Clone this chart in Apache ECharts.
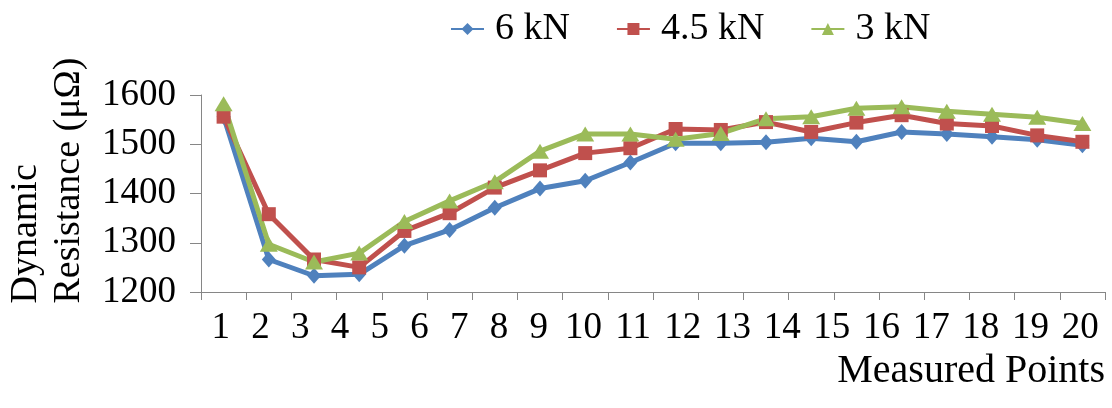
<!DOCTYPE html>
<html>
<head>
<meta charset="utf-8">
<script src="https://cdn.jsdelivr.net/npm/echarts@6/dist/echarts.min.js"></script>
<style>
html, body { margin: 0; padding: 0; background: #fff; }
#chart { width: 1112px; height: 408px; }
</style>
</head>
<body>
<div id="chart"></div>
<script>
var categories = ['1', '2', '3', '4', '5', '6', '7', '8', '9', '10',
  '11', '12', '13', '14', '15', '16', '17', '18', '19', '20']
var yTicks = [1200, 1300, 1400, 1500, 1600]
var seriesNames = ['6 kN', '4.5 kN', '3 kN']
var res6kN = [1556, 1266, 1233, 1236, 1294, 1326, 1371, 1410, 1426, 1463,
  1502, 1502, 1504, 1512, 1505, 1525, 1521, 1515, 1509, 1498]
var res45kN = [1556, 1358, 1266, 1250, 1324, 1360, 1412, 1447, 1482, 1492,
  1531, 1529, 1545, 1525, 1544, 1559, 1542, 1537, 1518, 1505]
var res3kN = [1582, 1297, 1261, 1279, 1343, 1385, 1424, 1486, 1521, 1521,
  1510, 1522, 1552, 1556, 1573, 1576, 1567, 1561, 1555, 1542]

var font = "'Times New Roman', 'Liberation Serif', serif"
var axisGray = '#868686'

// the labels under the axis are set like a justified line of text:
// each one gets room for its characters plus a fixed gap
var slots = categories.map(function (c) { return c.length + 3 })
var labelAt = []
var acc = 0
slots.forEach(function (s) {
  labelAt.push(acc + s / 2)
  acc += s
})
var slotTotal = acc

function labelFor(v) {
  for (var i = 0; i < labelAt.length; i++) {
    if (Math.abs(labelAt[i] - v) < 1e-6) return categories[i]
  }
  return ''
}

var chart = echarts.init(document.getElementById('chart'))

var option = {
  animation: false,
  legend: {
    left: 445,
    top: 5,
    itemWidth: 33,
    itemHeight: 15,
    itemGap: 46,
    data: seriesNames,
    textStyle: {
      fontFamily: font,
      fontSize: 38,
      color: '#000',
      padding: [0, 0, 0, 6]
    }
  },
  grid: {
    left: 201,
    right: 7,
    top: 95,
    bottom: 116,
    outerBoundsMode: 'none'
  },
  xAxis: [{
    type: 'category',
    data: categories,
    boundaryGap: true,
    name: 'Measured Points',
    nameLocation: 'end',
    nameGap: 0,
    nameTextStyle: {
      fontFamily: font,
      fontSize: 40,
      color: '#000',
      align: 'right',
      verticalAlign: 'top',
      lineHeight: 40,
      padding: [59, 0, 0, 0]
    },
    axisLine: { show: true, lineStyle: { color: axisGray, width: 1 } },
    axisTick: { show: true, interval: 0, length: 8, lineStyle: { color: axisGray } },
    axisLabel: { show: false },
    splitLine: { show: false }
  }, {
    type: 'value',
    position: 'bottom',
    min: 0,
    max: slotTotal,
    axisLine: { show: false },
    axisTick: { show: false },
    splitLine: { show: false },
    axisLabel: {
      customValues: labelAt,
      formatter: labelFor,
      margin: 18,
      fontFamily: font,
      fontSize: 37,
      lineHeight: 37,
      color: '#000'
    }
  }],
  yAxis: {
    type: 'value',
    min: yTicks[0],
    max: yTicks[yTicks.length - 1],
    interval: 100,
    name: 'Dynamic\nResistance (μΩ)',
    nameLocation: 'middle',
    nameRotate: 90,
    nameGap: 110,
    nameTextStyle: {
      fontFamily: font,
      fontSize: 38,
      lineHeight: 43,
      color: '#000',
      align: 'left',
      verticalAlign: 'bottom',
      padding: [0, 0, 0, -110]
    },
    axisLine: { show: true, lineStyle: { color: axisGray, width: 1 } },
    axisTick: { show: true, length: 11, lineStyle: { color: axisGray } },
    axisLabel: {
      margin: 25,
      fontFamily: font,
      fontSize: 37,
      color: '#000',
      formatter: function (v) { return String(v) }
    },
    splitLine: { show: false }
  },
  series: [{
    name: seriesNames[0],
    type: 'line',
    data: res6kN,
    symbol: 'diamond',
    symbolSize: [14, 16],
    color: '#4F81BD',
    lineStyle: { width: 5, color: '#4F81BD' },
    itemStyle: { color: '#4F81BD' }
  }, {
    name: seriesNames[1],
    type: 'line',
    data: res45kN,
    symbol: 'rect',
    symbolSize: 14,
    color: '#C0504D',
    lineStyle: { width: 5, color: '#C0504D' },
    itemStyle: { color: '#C0504D' }
  }, {
    name: seriesNames[2],
    type: 'line',
    data: res3kN,
    symbol: 'triangle',
    symbolSize: [18, 15],
    color: '#9BBB59',
    lineStyle: { width: 5, color: '#9BBB59' },
    itemStyle: { color: '#9BBB59' }
  }]
}

chart.setOption(option)
</script>
</body>
</html>
